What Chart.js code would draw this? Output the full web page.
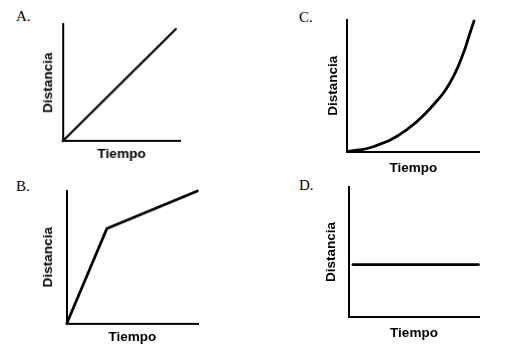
<!DOCTYPE html>
<html>
<head>
<meta charset="utf-8">
<script src="https://cdn.jsdelivr.net/npm/chart.js@4"></script>
<style>
  html, body { margin: 0; padding: 0; background: #fff; }
  body { width: 526px; height: 351px; position: relative; overflow: hidden; }
  .panel { position: absolute; }
  .letter { position: absolute; font-family: "Liberation Serif", "DejaVu Serif", serif; font-size: 15px; line-height: 15px; color: #000; }
</style>
</head>
<body>
<div class="letter" style="left:16px; top:9px;">A.</div>
<div class="letter" style="left:16px; top:179px;">B.</div>
<div class="letter" style="left:299px; top:10px;">C.</div>
<div class="letter" style="left:299px; top:177.5px;">D.</div>
<div class="panel" id="pA"><canvas id="cA"></canvas></div>
<div class="panel" id="pB"><canvas id="cB"></canvas></div>
<div class="panel" id="pC"><canvas id="cC"></canvas></div>
<div class="panel" id="pD"><canvas id="cD"></canvas></div>
<script>
// ---- data (axes run 0..10, no tick labels) ----
const xTitle = "Tiempo";
const yTitle = "Distancia";

const tiempoA = [0, 9.6];
const distanciaA = [0, 9.57];

const tiempoB = [0, 3.06, 9.95];
const distanciaB = [0, 7.17, 10];

const tiempoC = [0, 1.97, 4.49, 7.02, 8.03, 8.79, 9.29, 9.6];
const distanciaC = [0, 0.38, 1.65, 4.13, 5.70, 7.47, 8.99, 9.92];

const tiempoD = [0.34, 9.92];
const distanciaD = [4.03, 4.03];

// ---- layout helpers ----
const LH = 16;      // title line height in px
const PAD = 4;      // layout padding top/right

function makePanel(panelId, canvasId, area, yGap, xGap, xs, ys, lineWidth, smooth) {
  const yPadB = yGap - LH / 2;
  const yWidth = LH + yPadB;
  const xPadT = xGap - LH / 2;
  const xHeight = LH + xPadT;
  const left = area.l - yWidth;
  const top = area.t - PAD;
  const width = area.r + PAD - left;
  const height = area.b + xHeight - top;
  const div = document.getElementById(panelId);
  div.style.left = left + "px";
  div.style.top = top + "px";
  div.style.width = width + "px";
  div.style.height = height + "px";

  const titleFont = { family: "'Liberation Sans', Arial, sans-serif", size: 13.5, weight: "bold", lineHeight: LH + "px" };
  const axis = (text, pad) => ({
    type: "linear", min: 0, max: 10,
    ticks: { display: false },
    grid: { display: false, drawTicks: false },
    border: { display: true, color: "#000", width: 2 },
    title: { display: true, text: text, color: "#000", font: titleFont, padding: pad }
  });

  new Chart(document.getElementById(canvasId), {
    type: "line",
    data: {
      datasets: [{
        data: xs.map((x, i) => ({ x: x, y: ys[i] })),
        borderColor: "#000",
        borderWidth: lineWidth,
        borderCapStyle: "round",
        pointRadius: 0,
        fill: false,
        clip: false,
        tension: smooth ? 0.4 : 0
      }]
    },
    options: {
      responsive: true,
      maintainAspectRatio: false,
      animation: false,
      layout: { padding: { top: PAD, right: PAD, left: 0, bottom: 0 } },
      plugins: { legend: { display: false }, tooltip: { enabled: false } },
      scales: {
        x: axis(xTitle, { top: xPadT, bottom: 0 }),
        y: axis(yTitle, { top: 0, bottom: yPadB })
      }
    }
  });
}

makePanel("pA", "cA", { l: 62.5, t: 24, r: 179.5, b: 140.3 }, 14.5, 13.3, tiempoA, distanciaA, 2.2, false);
makePanel("pB", "cB", { l: 66.7, t: 191, r: 198, b: 322.7 }, 18.7, 14, tiempoB, distanciaB, 2.8, false);
makePanel("pC", "cC", { l: 347.3, t: 20, r: 479.3, b: 151.7 }, 14.3, 16.6, tiempoC, distanciaC, 2.8, true);
makePanel("pD", "cD", { l: 348.3, t: 186.7, r: 479.3, b: 316.7 }, 17.5, 16.6, tiempoD, distanciaD, 2.8, false);
</script>
</body>
</html>
